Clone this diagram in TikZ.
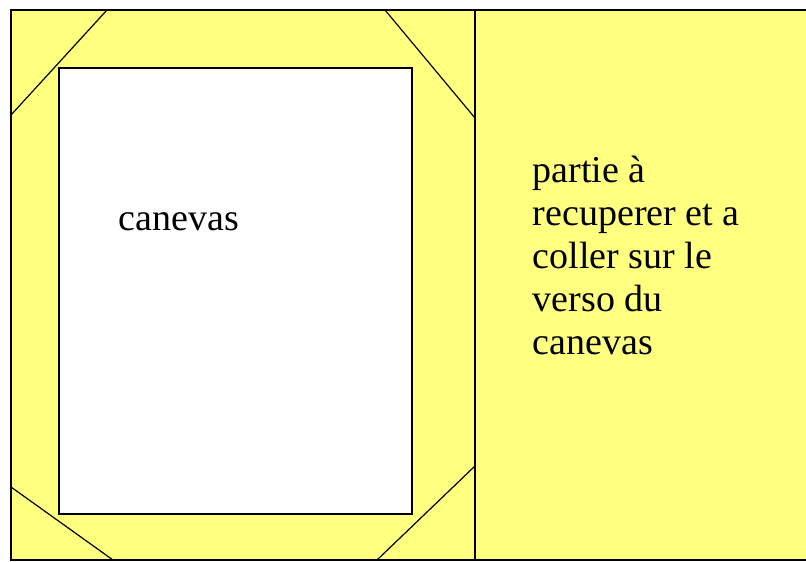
\documentclass[tikz,border=0pt]{standalone}
\usepackage{fontspec}
\setmainfont{Liberation Serif}
\usetikzlibrary{positioning}
\definecolor{paperyellow}{RGB}{255,255,128}

\begin{document}
\begin{tikzpicture}[x=1pt,y=-1pt,line width=1.6pt]
  \tikzstyle{every node}=[font=\fontsize{38}{43}\selectfont,inner sep=0pt,text=black]
  \tikzstyle{fold}=[line width=1.2pt]

  \useasboundingbox (0,0) rectangle (806,562);
  \fill[paperyellow] (11,10) rectangle (806,560);
  \draw (806,10) -- (11,10) -- (11,560) -- (806,560);
  \draw (475,10) -- (475,560);

  % coins
  \draw[fold] (11,115) -- (107,10);
  \draw[fold] (385,10) -- (475,118);
  \draw[fold] (11,487) -- (113,560);
  \draw[fold] (377,560) -- (475,466);

  \fill[white,draw=black] (59,68) rectangle (412,514);

  \node[anchor=base west] (canevas) at (118,230) {canevas};
  % base = derniere ligne
  \node[anchor=base west,align=left] (verso) at (532,354)
    {partie à\\recuperer et a\\coller sur le\\verso du\\canevas};
\end{tikzpicture}
\end{document}
